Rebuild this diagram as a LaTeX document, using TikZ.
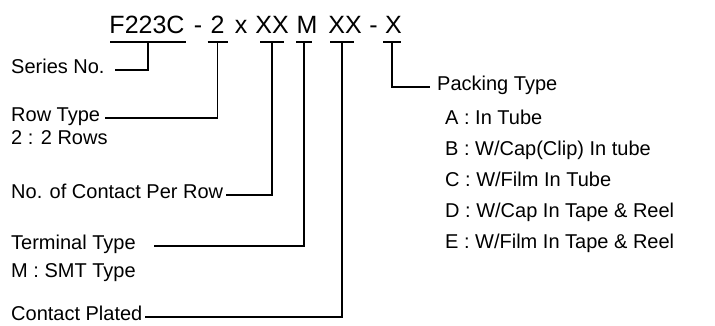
\documentclass[tikz,border=0pt]{standalone}
\usepackage{fontspec}
\setmainfont{Liberation Sans}
\usepackage{xcolor}
\definecolor{inkblack}{RGB}{0, 0, 0}

\begin{document}
\begin{tikzpicture}[x=1pt,y=-1pt,
        code/.style={anchor=base,inner sep=0pt,text=inkblack,font=\fontsize{25}{29}\selectfont},
        lbl/.style={anchor=base west,inner sep=0pt,text=inkblack,font=\fontsize{20}{24}\selectfont},
        lead/.style={draw=inkblack,line width=1.1pt}]
        \useasboundingbox (0,0) rectangle (715,325);

        % Part number
        \node[code] (ser) at (147,33) {F223C};
        \node[code] (dasha) at (198,33) {-};
        \node[code] (row) at (217.5,33) {2};
        \node[code] (times) at (241,33) {x};
        \node[code] (cnt) at (272,33) {XX};
        \node[code] (term) at (307,33) {M};
        \node[code] (plat) at (345,33) {XX};
        \node[code] (dashb) at (373.5,33) {-};
        \node[code] (pack) at (393.5,33) {X};

        % Underlines
        \foreach \n/\w/\dx in {ser/38/1, row/10/0, cnt/12/0, term/8/-3, plat/12/-3, pack/9/-1.5} {
            \coordinate (\n top) at ([xshift=\dx pt,yshift=-9pt]\n.base);
            \draw[lead] ([xshift=-\w pt]\n top) -- ([xshift=\w pt]\n top);
        }

        % Left labels
        \node[lbl] (serlbl) at (11,73) {Series No.};
        \node[lbl] (rowlbl) at (11,121) {Row Type};
        \node[lbl] (rowopt) at (11,144) {2 : 2 Rows};
        \node[lbl] (cntlbl) at (11,198) {No. of Contact Per Row};
        \node[lbl] (termlbl) at (11,249) {Terminal Type};
        \node[lbl] (termopt) at (11,277) {M : SMT Type};
        \node[lbl] (platlbl) at (11,320) {Contact Plated};

        % Packing options
        \node[lbl] (packlbl) at (437,90) {Packing Type};
        \foreach \t [count=\i] in {A : In Tube, B : W/Cap(Clip) In tube, C : W/Film In Tube,
                D : W/Cap In Tape \& Reel, E : W/Film In Tape \& Reel} {
            \node[lbl] (opt\i) at (445,93+31*\i) {\t};
        }

        % Leads
        \draw[lead] (sertop) |- ([xshift=10pt,yshift=3pt]serlbl.base east);
        \draw[lead] (rowtop) |- ([xshift=5pt,yshift=3pt]rowlbl.base east);
        \draw[lead] (cnttop) |- ([xshift=3pt,yshift=3pt]cntlbl.base east);
        \draw[lead] (termtop) |- ([xshift=18pt,yshift=3pt]termlbl.base east);
        \draw[lead] (plattop) |- ([xshift=2pt,yshift=3pt]platlbl.base east);
        \draw[lead] (packtop) |- ([xshift=-7pt,yshift=3pt]packlbl.base west);
\end{tikzpicture}
\end{document}
